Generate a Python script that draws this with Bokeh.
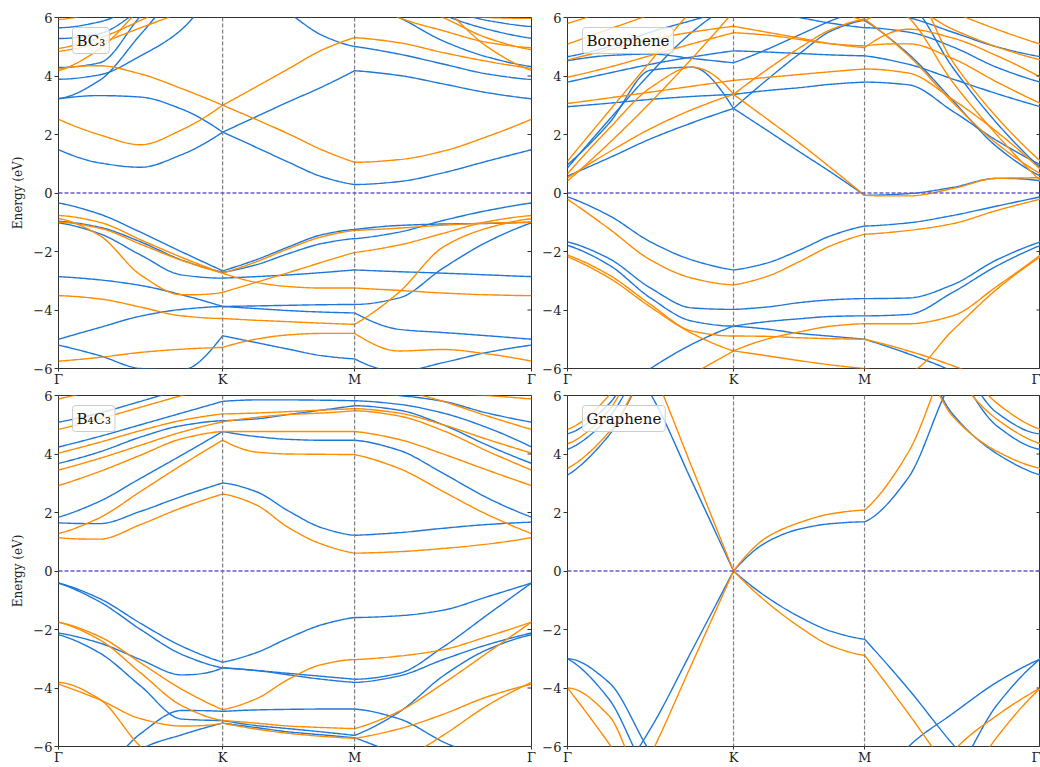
import numpy as np
from bokeh.plotting import figure
from bokeh.layouts import column, row
from bokeh.models import Span, Label, FixedTicker, Range1d
from bokeh.embed import file_html
from bokeh.resources import INLINE

# ---------------- data ----------------
# high-symmetry points (fraction of the k-path)  Γ, K, M, Γ
KPATH_LEFT = [0.0, 0.347, 0.626, 1.0]
KPATH_RIGHT = [0.0, 0.351, 0.628, 1.0]
K_LABELS = ["Γ", "K", "M", "Γ"]
Y_TICKS = [-6, -4, -2, 0, 2, 4, 6]
PANEL_NAMES = ["BC₃", "Borophene", "B₄C₃", "Graphene"]

# Each band: energies (eV) at 13 k-points: 5 on Γ-K, 5 on K-M, 5 on M-Γ (shared ends)
BC3_BLUE = [
    [1.48, 1.03, 0.88, 1.31, 2.08, 1.57, 1.05, 0.56, 0.29, 0.39, 0.69, 1.09, 1.48],
    [3.22, 3.33, 3.28, 2.87, 2.08, 2.60, 3.12, 3.62, 4.18, 4.02, 3.73, 3.43, 3.22],
    [3.23, 3.85, 5.42, 7.00, 8.00, 8.50, 8.50, 8.50, 8.50, 8.50, 8.50, 8.50, 8.50],
    [3.89, 4.04, 4.69, 5.59, 7.50, 6.80, 6.15, 5.40, 5.01, 4.75, 4.41, 4.07, 3.88],
    [4.29, 4.45, 6.05, 7.50, 8.50, 8.50, 8.50, 7.50, 6.60, 6.00, 5.20, 4.65, 4.32],
    [5.28, 5.45, 6.30, 7.50, 8.50, 8.50, 8.50, 8.50, 8.00, 7.00, 6.10, 5.60, 5.29],
    [5.65, 5.85, 6.50, 7.50, 8.50, 8.50, 8.50, 8.50, 8.00, 6.80, 6.30, 5.90, 5.69],
    [-0.34, -0.72, -1.34, -2.01, -2.66, -2.29, -1.84, -1.43, -1.25, -1.11, -1.06, -1.04, -1.00],
    [-0.97, -1.17, -1.67, -2.29, -2.71, -2.46, -2.07, -1.73, -1.56, -1.34, -0.94, -0.60, -0.34],
    [-1.02, -1.39, -2.12, -2.80, -2.91, -2.86, -2.80, -2.72, -2.63, -2.69, -2.74, -2.80, -2.86],
    [-2.86, -2.97, -3.16, -3.48, -3.88, -3.86, -3.84, -3.82, -3.81, -3.59, -2.57, -1.67, -1.02],
    [-5.00, -4.60, -4.21, -3.98, -3.88, -3.95, -4.02, -4.07, -4.10, -4.66, -4.77, -4.88, -5.00],
    [-5.20, -5.56, -6.00, -6.05, -4.88, -5.11, -5.34, -5.56, -5.67, -6.10, -5.80, -5.45, -5.20],
]
BC3_ORANGE = [
    [2.52, 1.99, 1.65, 2.16, 3.00, 2.52, 2.02, 1.48, 1.05, 1.14, 1.43, 1.93, 2.52],
    [4.23, 4.35, 4.07, 3.57, 3.00, 3.62, 4.25, 4.88, 5.31, 5.14, 4.80, 4.50, 4.26],
    [4.18, 4.92, 6.30, 7.50, 8.00, 8.00, 8.00, 8.00, 8.00, 8.00, 6.40, 5.00, 4.19],
    [4.84, 5.14, 5.65, 6.20, 7.00, 7.50, 7.50, 7.50, 7.00, 6.00, 5.55, 5.15, 4.97],
    [4.94, 5.30, 5.90, 6.60, 7.50, 8.00, 8.00, 8.00, 7.50, 6.60, 6.00, 5.30, 4.90],
    [5.93, 6.20, 6.80, 7.50, 8.00, 8.00, 8.00, 8.00, 7.50, 6.30, 6.10, 6.00, 5.97],
    [-0.77, -1.00, -1.60, -2.20, -2.74, -2.36, -1.90, -1.50, -1.28, -1.20, -1.10, -1.03, -1.00],
    [-0.88, -1.45, -2.80, -3.48, -3.40, -3.06, -2.72, -2.37, -2.03, -1.78, -1.38, -0.98, -0.77],
    [-1.00, -1.20, -1.75, -2.30, -2.74, -3.05, -3.20, -3.25, -3.25, -3.33, -3.42, -3.48, -3.51],
    [-3.51, -3.62, -3.90, -4.20, -4.29, -4.35, -4.40, -4.45, -4.49, -3.40, -1.85, -1.20, -0.88],
    [-5.75, -5.62, -5.45, -5.34, -5.28, -5.00, -4.85, -4.80, -4.80, -5.40, -5.35, -5.50, -5.75],
]

BORO_BLUE = [
    [0.58, 1.20, 1.85, 2.40, 2.89, 3.85, 4.75, 5.55, 5.90, 4.75, 3.17, 1.59, 0.58],
    [0.97, 2.38, 4.20, 4.30, 2.89, 2.16, 1.42, 0.69, -0.08, -0.02, 0.19, 0.50, 0.41],
    [0.86, 2.50, 4.10, 5.50, 6.50, 7.00, 7.00, 7.00, 7.00, 6.50, 4.30, 2.40, 0.86],
    [2.95, 3.07, 3.20, 3.30, 3.37, 3.50, 3.60, 3.72, 3.79, 3.70, 2.80, 1.80, 0.97],
    [3.79, 4.10, 4.40, 4.65, 4.86, 4.82, 4.77, 4.72, 4.69, 4.40, 3.90, 3.40, 2.95],
    [4.66, 5.00, 5.50, 5.90, 6.30, 6.20, 6.00, 5.80, 5.65, 5.50, 5.00, 4.30, 3.79],
    [4.52, 4.70, 4.75, 4.60, 4.45, 4.90, 5.40, 5.90, 6.30, 6.00, 5.50, 5.00, 4.66],
    [-0.13, -0.77, -1.67, -2.29, -2.63, -2.40, -1.96, -1.45, -1.13, -1.02, -0.77, -0.45, -0.13],
    [-1.67, -2.24, -3.25, -3.93, -3.98, -3.90, -3.75, -3.65, -3.61, -3.59, -3.14, -2.29, -1.67],
    [-1.79, -2.46, -3.59, -4.38, -4.55, -4.65, -4.80, -4.90, -5.00, -5.50, -6.10, -7.00, -8.00],
    [-8.00, -7.00, -6.00, -5.17, -4.55, -4.40, -4.30, -4.22, -4.20, -4.15, -3.40, -2.50, -1.79],
]
BORO_ORANGE = [
    [0.66, 2.20, 3.60, 4.30, 3.37, 2.55, 1.72, 0.83, -0.08, -0.10, 0.15, 0.50, 0.52],
    [0.52, 1.40, 2.20, 2.85, 3.37, 4.20, 4.95, 5.60, 5.95, 4.70, 3.10, 1.70, 0.66],
    [1.09, 2.80, 4.50, 6.20, 7.00, 7.00, 7.00, 7.00, 7.00, 7.00, 4.50, 2.60, 1.09],
    [0.41, 1.70, 3.10, 4.60, 6.20, 7.00, 7.00, 7.00, 7.00, 6.00, 3.80, 2.00, 0.41],
    [3.06, 3.25, 3.45, 3.65, 3.85, 3.95, 4.05, 4.15, 4.24, 4.10, 3.20, 2.10, 0.81],
    [3.96, 4.30, 4.70, 5.10, 5.48, 5.40, 5.25, 5.10, 5.03, 5.10, 4.60, 3.80, 3.06],
    [4.55, 4.90, 5.25, 5.50, 5.70, 5.50, 5.30, 5.10, 4.97, 5.60, 5.30, 4.70, 3.96],
    [5.09, 5.60, 6.10, 6.60, 7.00, 7.00, 6.80, 6.30, 5.88, 6.30, 5.60, 5.00, 4.55],
    [5.80, 6.30, 7.00, 7.00, 7.00, 7.00, 7.00, 7.00, 7.00, 7.00, 6.20, 5.60, 5.09],
    [-0.21, -1.22, -2.29, -2.91, -3.14, -2.86, -2.35, -1.79, -1.41, -1.28, -1.05, -0.60, -0.21],
    [-2.12, -2.80, -3.81, -4.72, -4.89, -4.90, -4.95, -4.98, -5.00, -5.40, -5.90, -6.50, -7.00],
    [-2.18, -2.90, -3.90, -4.80, -5.40, -5.56, -5.73, -5.88, -6.00, -6.10, -4.70, -3.30, -2.18],
    [-8.00, -8.00, -7.00, -6.20, -5.40, -5.00, -4.75, -4.55, -4.47, -4.47, -4.20, -3.20, -2.12],
]

B4C3_BLUE = [
    [1.65, 1.62, 2.04, 2.55, 3.01, 2.72, 2.05, 1.48, 1.22, 1.31, 1.46, 1.59, 1.67],
    [1.84, 2.38, 3.17, 3.96, 4.77, 4.60, 4.50, 4.47, 4.47, 4.13, 3.34, 2.50, 1.84],
    [3.68, 4.07, 4.58, 4.97, 5.14, 5.20, 5.35, 5.50, 5.65, 5.50, 5.00, 4.30, 3.68],
    [4.24, 4.60, 5.00, 5.40, 5.80, 5.85, 5.85, 5.84, 5.82, 5.70, 5.40, 4.90, 4.24],
    [5.09, 5.40, 5.80, 6.20, 6.50, 6.40, 6.30, 6.20, 6.10, 6.00, 5.80, 5.40, 5.09],
    [-0.41, -0.94, -1.79, -2.57, -3.12, -2.80, -2.29, -1.84, -1.59, -1.53, -1.34, -0.88, -0.41],
    [-0.41, -1.05, -2.00, -2.85, -3.31, -3.40, -3.50, -3.60, -3.70, -3.50, -2.60, -1.50, -0.41],
    [-2.12, -2.46, -3.03, -3.55, -3.31, -3.40, -3.55, -3.70, -3.81, -3.59, -3.03, -2.52, -2.12],
    [-2.18, -2.80, -3.93, -5.06, -5.11, -5.28, -5.39, -5.50, -5.62, -4.83, -3.59, -2.69, -2.18],
    [-8.00, -7.00, -5.56, -4.77, -4.80, -4.75, -4.73, -4.72, -4.72, -5.05, -5.84, -6.50, -8.00],
    [-8.00, -8.00, -6.10, -5.60, -5.20, -5.35, -5.50, -5.60, -5.70, -6.30, -7.00, -8.00, -8.00],
]
B4C3_ORANGE = [
    [1.14, 1.09, 1.59, 2.16, 2.63, 2.27, 1.48, 0.92, 0.61, 0.66, 0.77, 0.92, 1.14],
    [1.28, 1.82, 2.72, 3.62, 4.47, 4.07, 4.00, 3.99, 3.98, 3.51, 2.72, 1.93, 1.28],
    [2.92, 3.40, 3.96, 4.52, 4.77, 4.77, 4.77, 4.77, 4.77, 4.50, 4.00, 3.45, 2.92],
    [3.45, 3.85, 4.30, 4.75, 5.10, 5.25, 5.35, 5.40, 5.48, 5.30, 4.80, 4.10, 3.45],
    [4.03, 4.40, 4.80, 5.15, 5.37, 5.40, 5.45, 5.50, 5.55, 5.40, 5.00, 4.50, 4.03],
    [4.84, 5.20, 5.60, 6.00, 6.40, 6.50, 6.50, 6.50, 6.50, 6.20, 5.80, 5.30, 4.84],
    [5.88, 6.20, 6.50, 6.80, 7.00, 7.00, 7.00, 7.00, 7.00, 6.50, 6.10, 6.00, 5.88],
    [-1.75, -2.24, -3.14, -4.04, -4.74, -4.38, -3.70, -3.20, -3.03, -2.91, -2.69, -2.24, -1.75],
    [-1.75, -2.35, -3.48, -4.60, -5.11, -5.20, -5.30, -5.35, -5.39, -4.80, -3.85, -2.80, -1.75],
    [-3.81, -4.38, -6.00, -7.00, -7.00, -7.00, -7.00, -7.00, -7.00, -6.50, -5.62, -4.60, -3.81],
    [-3.87, -4.40, -5.05, -5.30, -5.20, -5.40, -5.55, -5.65, -5.72, -5.40, -4.90, -4.30, -3.87],
]

GRAPHENE_BLUE = [
    [-9.00, -7.50, -5.39, -2.71, 0.00, -0.88, -1.56, -2.07, -2.33, -4.04, -5.91, -7.50, -9.00],
    [9.00, 8.00, 6.05, 3.05, 0.00, 0.98, 1.43, 1.62, 1.68, 3.20, 6.50, 8.00, 9.00],
    [3.28, 4.64, 7.00, 8.00, 9.00, 9.00, 9.00, 9.00, 9.00, 8.00, 5.37, 4.02, 3.28],
    [4.16, 5.26, 7.50, 8.50, 9.50, 9.50, 9.50, 9.50, 9.50, 8.50, 7.00, 4.97, 4.16],
    [4.69, 5.71, 8.00, 9.00, 10.0, 10.0, 10.0, 10.0, 10.0, 9.00, 7.50, 5.42, 4.69],
    [-3.00, -4.38, -7.00, -8.00, -9.00, -9.00, -9.00, -9.00, -9.00, -8.00, -7.00, -4.60, -3.00],
    [-3.00, -3.81, -6.20, -8.00, -9.00, -9.00, -9.00, -9.00, -8.00, -6.00, -4.88, -3.81, -3.00],
]
GRAPHENE_ORANGE = [
    [-11.0, -9.00, -6.30, -3.16, 0.00, -1.05, -1.90, -2.57, -2.88, -4.88, -7.00, -9.00, -11.0],
    [11.0, 10.0, 7.05, 3.54, 0.00, 1.14, 1.65, 1.96, 2.08, 4.07, 7.50, 9.00, 11.0],
    [3.51, 4.75, 7.00, 8.00, 9.00, 9.00, 9.00, 9.00, 9.00, 8.00, 5.30, 4.10, 3.51],
    [4.35, 5.50, 8.00, 9.00, 10.0, 10.0, 10.0, 10.0, 10.0, 9.00, 6.80, 5.20, 4.35],
    [4.84, 6.00, 8.50, 9.50, 10.5, 10.5, 10.5, 10.5, 10.5, 9.50, 7.50, 5.75, 4.84],
    [-4.00, -5.90, -8.00, -9.00, -10.0, -10.0, -10.0, -10.0, -10.0, -10.0, -8.00, -5.70, -4.00],
    [-4.00, -4.95, -8.00, -9.00, -10.0, -10.0, -10.0, -10.0, -10.0, -9.00, -6.20, -4.95, -4.00],
]

# ---------------- style ----------------
BLUE = "#1f77d8"
ORANGE = "#ff8c00"
FERMI = "#6a5acd"
VLINE = "#7f7f7f"
FONT = "DejaVu Serif"


def pchip(x, y, xs):
    x = np.asarray(x, float)
    y = np.asarray(y, float)
    h = np.diff(x)
    d = np.diff(y) / h
    n = len(x)
    m = np.zeros(n)
    for k in range(1, n - 1):
        if d[k - 1] * d[k] > 0:
            w1 = 2 * h[k] + h[k - 1]
            w2 = h[k] + 2 * h[k - 1]
            m[k] = (w1 + w2) / (w1 / d[k - 1] + w2 / d[k])

    def end(h0, h1, d0, d1):
        mm = ((2 * h0 + h1) * d0 - h0 * d1) / (h0 + h1)
        if np.sign(mm) != np.sign(d0):
            mm = 0.0
        elif np.sign(d0) != np.sign(d1) and abs(mm) > abs(3 * d0):
            mm = 3 * d0
        return mm

    m[0] = end(h[0], h[1], d[0], d[1])
    m[-1] = end(h[-1], h[-2], d[-1], d[-2])
    idx = np.clip(np.searchsorted(x, xs) - 1, 0, n - 2)
    t = (xs - x[idx]) / h[idx]
    h00 = 2 * t**3 - 3 * t**2 + 1
    h10 = t**3 - 2 * t**2 + t
    h01 = -2 * t**3 + 3 * t**2
    h11 = t**3 - t**2
    return h00 * y[idx] + h10 * h[idx] * m[idx] + h01 * y[idx + 1] + h11 * h[idx] * m[idx + 1]


def band_curve(kpath, band):
    xs_all, ys_all = [], []
    for s in range(3):
        xk = np.linspace(kpath[s], kpath[s + 1], 5)
        yk = band[4 * s: 4 * s + 5]
        xf = np.linspace(kpath[s], kpath[s + 1], 80)
        yf = pchip(xk, yk, xf)
        if s > 0:
            xf, yf = xf[1:], yf[1:]
        xs_all.append(xf)
        ys_all.append(yf)
    return np.concatenate(xs_all), np.concatenate(ys_all)


FRAME_W = 473
FRAME_H = 352


def make_panel(name, kpath, blue, orange, left, top):
    bt = 17 if top else 6
    bb = 20
    bl = 58 if left else 28
    br = 8 if left else 0
    p = figure(width=bl + FRAME_W + br, height=bt + FRAME_H + bb,
               x_range=Range1d(0, 1), y_range=Range1d(-6, 6),
               output_backend="svg", toolbar_location=None,
               min_border_left=bl, min_border_right=br,
               min_border_top=bt, min_border_bottom=bb)
    p.xgrid.visible = False
    p.ygrid.visible = False
    p.outline_line_color = "#333333"
    p.outline_line_width = 1
    p.background_fill_color = "white"
    p.border_fill_color = "white"

    for band in blue:
        xs, ys = band_curve(kpath, band)
        p.line(xs, ys, line_color=BLUE, line_width=1.4)
    for band in orange:
        xs, ys = band_curve(kpath, band)
        p.line(xs, ys, line_color=ORANGE, line_width=1.4)

    for kx in kpath[1:3]:
        p.add_layout(Span(location=kx, dimension="height", line_color=VLINE,
                          line_dash="4 2", line_width=1.2))
    p.add_layout(Span(location=0, dimension="width", line_color=FERMI,
                      line_dash="4 2", line_width=1.3))

    # inward ticks on the right spine
    p.scatter([kpath[-1]] * len(Y_TICKS), Y_TICKS, marker="dash", size=8,
              line_color="#333333", line_width=1)

    # y axis
    ya = p.yaxis[0]
    ya.ticker = FixedTicker(ticks=Y_TICKS)
    ya.major_label_overrides = {t: str(t).replace("-", "\u2212") for t in Y_TICKS}
    ya.major_label_text_font = FONT
    ya.major_label_text_font_size = "13px"
    ya.major_label_text_color = "#222222"
    ya.major_tick_out = 4
    ya.major_tick_in = 0
    ya.minor_tick_line_color = None
    ya.axis_line_color = None
    ya.major_label_standoff = 2
    ya.major_tick_line_color = "#333333"
    if left:
        ya.axis_label = "Energy (eV)"
        ya.axis_label_text_font = FONT
        ya.axis_label_text_font_size = "12px"
        ya.axis_label_text_font_style = "normal"
        ya.axis_label_text_color = "#222222"
        ya.axis_label_standoff = 5

    # x axis
    xa = p.xaxis[0]
    xa.ticker = FixedTicker(ticks=kpath)
    xa.major_label_overrides = {k: lab for k, lab in zip(kpath, K_LABELS)}
    xa.major_label_text_font = FONT
    xa.major_label_text_font_size = "13px"
    xa.major_label_text_color = "#222222"
    xa.major_tick_out = 3
    xa.major_tick_in = 0
    xa.minor_tick_line_color = None
    xa.axis_line_color = None
    xa.major_label_standoff = 0
    xa.major_tick_line_color = "#333333"

    p.add_layout(Label(x=(14 if left else 15) / FRAME_W, y=6, text=name,
                       text_font=FONT, text_font_size="15px", text_color="#111111",
                       text_align="left", text_baseline="top", y_offset=-10,
                       background_fill_color="white", background_fill_alpha=0.8,
                       border_line_color="#cccccc", border_line_width=1,
                       padding=4, border_radius=3))
    return p


p1 = make_panel(PANEL_NAMES[0], KPATH_LEFT, BC3_BLUE, BC3_ORANGE, True, True)
p2 = make_panel(PANEL_NAMES[1], KPATH_RIGHT, BORO_BLUE, BORO_ORANGE, False, True)
p3 = make_panel(PANEL_NAMES[2], KPATH_LEFT, B4C3_BLUE, B4C3_ORANGE, True, False)
p4 = make_panel(PANEL_NAMES[3], KPATH_RIGHT, GRAPHENE_BLUE, GRAPHENE_ORANGE, False, False)

layout = column(row(p1, p2), row(p3, p4))
open("out.html", "w").write(file_html(layout, INLINE))
